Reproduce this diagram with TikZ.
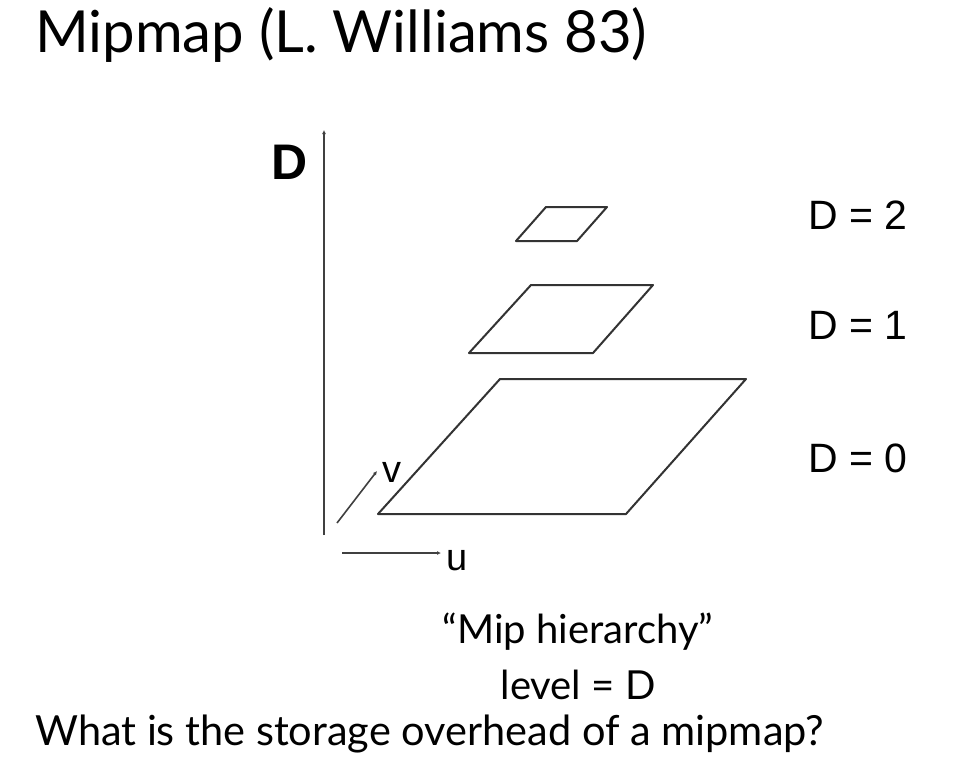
\documentclass[tikz,border=0pt]{standalone}
\usepackage{fontspec}
\setmainfont{Lato}
\newfontfamily\helv{Liberation Sans}
\usetikzlibrary{arrows.meta}
\begin{document}
\begin{tikzpicture}[x=1pt,y=-1pt,
  plane/.style={draw=black!80,line width=2pt,line join=round},
  axis/.style={draw=black!75,line width=1.6pt,-{Latex[length=4pt,width=4pt]}},
  lvl/.style={font=\helv\fontsize{41}{41}\selectfont,anchor=west,inner sep=0pt},
  slide/.style={inner sep=0pt}]
\useasboundingbox[fill=white] (0,0) rectangle (977,766);
% title
\node[slide,anchor=base west,font=\fontsize{58}{58}\selectfont] (title) at (35,52) {Mipmap (L. Williams 83)};
% axes
\coordinate (d0) at (324,535);
\coordinate (d1) at (324,130);
\draw[axis] (d0) -- (d1);
\node[slide,font=\helv\bfseries\fontsize{50}{50}\selectfont] (Dlab) at (290,162) {D};
\coordinate (v0) at (337,523);
\coordinate (v1) at (377,471);
\draw[axis] (v0) -- (v1);
\node[slide,font=\helv\fontsize{38}{38}\selectfont] (vlab) at (392,472) {v};
\coordinate (u0) at (342,553);
\coordinate (u1) at (441,553);
\draw[axis] (u0) -- (u1);
\node[slide,font=\helv\fontsize{38}{38}\selectfont] (ulab) at (457,561) {u};
% levels
\draw[plane] (546,207) -- (607,207) -- (577,241) -- (516,241) -- cycle;
\draw[plane] (531,285) -- (653,285) -- (593,353) -- (469,353) -- cycle;
\draw[plane] (500,379) -- (746,379) -- (626,514) -- (378,514) -- cycle;
\node[lvl] (L2) at (808,215) {D = 2};
\node[lvl] (L1) at (808,325) {D = 1};
\node[lvl] (L0) at (808,458) {D = 0};
% captions
\node[slide,font=\fontsize{40}{40}\selectfont] (cap1) at (578,632) {“Mip hierarchy”};
\node[slide,font=\fontsize{40}{40}\selectfont] (cap2) at (578,685) {level = D};
\node[slide,anchor=base west,font=\fontsize{41.5}{41.5}\selectfont] (q) at (35,745) {What is the storage overhead of a mipmap?};
\end{tikzpicture}
\end{document}
